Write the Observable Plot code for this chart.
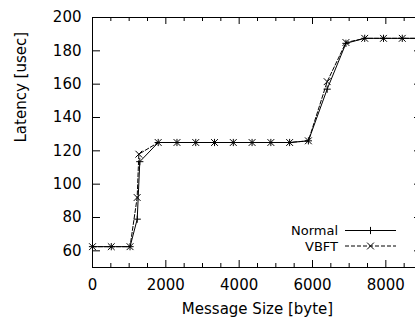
<!DOCTYPE html>
<html>
<head>
<meta charset="utf-8">
<script src="https://cdn.jsdelivr.net/npm/d3@7"></script>
<script src="https://cdn.jsdelivr.net/npm/@observablehq/plot@0.6"></script>
<style>
  html, body { margin: 0; padding: 0; background: #fff; overflow: hidden; width: 415px; height: 321px; }
  #chart { width: 415px; height: 321px; overflow: hidden; }
  #chart svg { max-width: none !important; width: 440px !important; height: 321px !important; }
</style>
</head>
<body>
<div id="chart"></div>
<script>
// ---- data ----
const normalSize = [0, 512, 1024, 1220, 1290, 1792, 2304, 2816, 3328, 3840, 4352, 4864, 5376, 5888, 6400, 6912, 7424, 7936, 8448, 8960];
const normalLatency = [62.5, 62.5, 62.5, 79, 113.5, 125, 125, 125, 125, 125, 125, 125, 125, 126, 157, 184.5, 187.5, 187.5, 187.5, 187.5];
const vbftSize = [0, 512, 1024, 1218, 1264, 1792, 2304, 2816, 3328, 3840, 4352, 4864, 5376, 5888, 6400, 6912, 7424, 7936, 8448, 8960];
const vbftLatency = [62.5, 62.5, 62.5, 92, 118, 125, 125, 125, 125, 125, 125, 125, 125, 126, 161.5, 185, 187.5, 187.5, 187.5, 187.5];
const seriesNames = ["Normal", "VBFT"];
const xMajorTicks = [0, 2000, 4000, 6000, 8000];
const xMinorTicks = [500, 1000, 1500, 2500, 3000, 3500, 4500, 5000, 5500, 6500, 7000, 7500, 8500];
const yTicks = [60, 80, 100, 120, 140, 160, 180, 200];
const xLabel = "Message Size [byte]";
const yLabel = "Latency [usec]";

const normalData = normalSize.map((s, i) => ({size: s, latency: normalLatency[i]}));
const vbftData = vbftSize.map((s, i) => ({size: s, latency: vbftLatency[i]}));

const plusSym = {draw(c) { const a = 3.6; c.moveTo(-a, 0); c.lineTo(a, 0); c.moveTo(0, -a); c.lineTo(0, a); }};
const timesSym = {draw(c) { const a = 3.4; c.moveTo(-a, -a); c.lineTo(a, a); c.moveTo(-a, a); c.lineTo(a, -a); }};

const FONT = "DejaVu Sans";
const PW = 330, PH = 250;

const chart = Plot.plot({
  width: 440,
  height: 321,
  marginLeft: 92,
  marginRight: 18,
  marginTop: 17,
  marginBottom: 54,
  style: {fontFamily: FONT, fontSize: "15px", color: "black", background: "white", overflow: "visible", maxWidth: "none"},
  x: {domain: [0, 9000], label: null},
  y: {domain: [50, 200], label: null},
  marks: [
    // inward ticks
    Plot.tickX(xMajorTicks, {x: d => d, insetTop: PH - 7, stroke: "black"}),
    Plot.tickX(xMajorTicks, {x: d => d, insetBottom: PH - 7, stroke: "black"}),
    Plot.tickX(xMinorTicks, {x: d => d, insetTop: PH - 4, stroke: "black"}),
    Plot.tickX(xMinorTicks, {x: d => d, insetBottom: PH - 4, stroke: "black"}),
    Plot.tickY(yTicks, {y: d => d, insetRight: PW - 8, stroke: "black"}),
    Plot.tickY(yTicks, {y: d => d, insetLeft: PW - 8, stroke: "black"}),
    Plot.axisX({ticks: xMajorTicks, tickSize: 0, tickPadding: 12, tickFormat: d => String(d), label: null, fontSize: 15}),
    Plot.axisY({ticks: yTicks, tickSize: 0, tickPadding: 11, tickFormat: d => String(d), label: null, fontSize: 15}),
    Plot.text([xLabel], {text: d => d, frameAnchor: "bottom", lineAnchor: "top", dy: 36, fontSize: 15}),
    Plot.text([yLabel], {text: d => d, frameAnchor: "left", rotate: -90, lineAnchor: "middle", dx: -71, fontSize: 15}),
    Plot.frame({stroke: "black", strokeWidth: 1}),
    Plot.line(vbftData, {x: "size", y: "latency", stroke: "black", strokeWidth: 1, strokeDasharray: "4,2"}),
    Plot.line(normalData, {x: "size", y: "latency", stroke: "black", strokeWidth: 1}),
    Plot.dot(normalData, {x: "size", y: "latency", symbol: plusSym, fill: "none", stroke: "black", strokeWidth: 1}),
    Plot.dot(vbftData, {x: "size", y: "latency", symbol: timesSym, fill: "none", stroke: "black", strokeWidth: 1})
  ]
});
chart.style.maxWidth = "none";
document.getElementById("chart").appendChild(chart);

// ---- legend (inside plot, bottom-right) ----
const xs = chart.scale("x"), ys = chart.scale("y");
const right = xs.range[1], bottom = ys.range[0];
const svg = d3.select(chart);
const lg = svg.append("g").attr("font-family", FONT).attr("font-size", 13);
const rowsOffset = [36.5, 21];
const symbols = [plusSym, timesSym];
const dashes = [null, "4,2"];
seriesNames.forEach((name, i) => {
  const yy = bottom - rowsOffset[i];
  lg.append("text").attr("x", right - 84).attr("y", yy).attr("dy", "0.36em")
    .attr("text-anchor", "end").attr("fill", "black").text(name);
  lg.append("line").attr("x1", right - 77).attr("x2", right - 26).attr("y1", yy).attr("y2", yy)
    .attr("stroke", "black").attr("stroke-dasharray", dashes[i]);
  const p = d3.path(); symbols[i].draw(p);
  lg.append("path").attr("d", p.toString()).attr("transform", `translate(${right - 51.5},${yy})`)
    .attr("fill", "none").attr("stroke", "black");
});
</script>
</body>
</html>
